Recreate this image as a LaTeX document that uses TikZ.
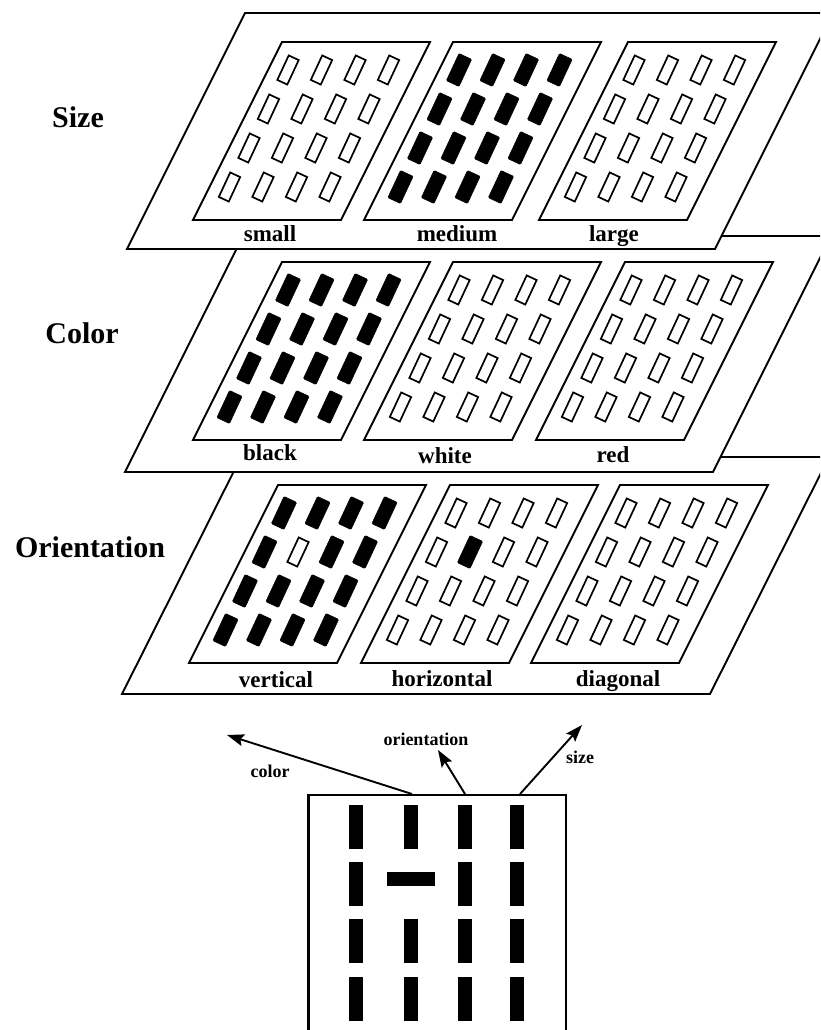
\documentclass[tikz,border=0pt]{standalone}
\usepackage{fontspec}
\setmainfont{Liberation Serif}
\usetikzlibrary{arrows.meta}
\tikzset{
  layer/.style={draw, fill=white, line width=1.9pt, line join=miter},
  panelbox/.style={draw, fill=white, line width=1.9pt, line join=miter},
  hollowbar/.style={draw, line width=1.7pt, fill=white},
  filledbar/.style={fill=black, draw=black, line width=0.5pt, rounded corners=1pt},
  laylabel/.style={font=\bfseries\fontsize{30}{30}\selectfont, anchor=base, inner sep=0pt},
  panlabel/.style={font=\bfseries\fontsize{23}{23}\selectfont, anchor=base, inner sep=0pt},
  dirlabel/.style={font=\bfseries\fontsize{18}{18}\selectfont, anchor=base, inner sep=0pt},
  arr/.style={line width=1.9pt, -{Stealth[length=17pt,width=12pt,inset=3pt]}},
  boxline/.style={line width=2.2pt, line join=miter},
  vbar/.style={fill=black},
}
\newcommand\hcell[2]{\path[hollowbar, shift={(#1,#2)}, rotate=-25] (-5.5,-13.5) rectangle (5.5,13.5);}
\newcommand\fcell[2]{\path[filledbar, shift={(#1,#2)}, rotate=-25] (-7,-15) rectangle (7,15);}
% #1 TLx, #2 top y, #3 kind (0 hollow, 1 filled, 2 filled+hollow odd, 3 hollow+filled odd)
\newcommand\panelgrid[3]{%
  \draw[panelbox] (#1,#2) -- ++(148,0) -- ++(-89,178) -- ++(-148,0) -- cycle;
  \foreach \i in {0,...,3}{%
    \foreach \j in {0,...,3}{%
      \pgfmathsetmacro\cx{#1+20+33.5*\j-0.5*(28+39*\i)}%
      \pgfmathsetmacro\cy{#2+28+39*\i}%
      \pgfmathtruncatemacro\odd{(\i==1)*(\j==1)}%
      \pgfmathtruncatemacro\fillit{(#3==1)+(#3==2)*(1-\odd)+(#3==3)*\odd}%
      \ifnum\fillit=1 \fcell{\cx}{\cy}\else\hcell{\cx}{\cy}\fi
    }%
  }%
}
\begin{document}
\begin{tikzpicture}[x=1pt, y=-1pt]
\useasboundingbox (0,0) rectangle (820,1030);
\clip (0,0) rectangle (820,1030);
\fill[white] (0,0) rectangle (820,1030);

% ---------- layer 3: orientation ----------
\draw[layer] (122,694) -- (710,694) -- (829,457) -- (241,457) -- cycle;
\panelgrid{278}{485}{2}
\panelgrid{450}{485}{3}
\panelgrid{620}{485}{0}
\node[panlabel] (lvert) at (276,687) {vertical};
\node[panlabel] (lhor) at (442,686) {horizontal};
\node[panlabel] (ldiag) at (618,686) {diagonal};

% ---------- layer 2: color ----------
\draw[layer] (125,472) -- (713,472) -- (831,236) -- (243,236) -- cycle;
\panelgrid{282}{262}{1}
\panelgrid{453}{262}{0}
\panelgrid{625}{262}{0}
\node[panlabel] (lblack) at (270,460) {black};
\node[panlabel] (lwhite) at (445,463) {white};
\node[panlabel] (lred) at (613,462) {red};

% ---------- layer 1: size ----------
\draw[layer] (127,249) -- (715,249) -- (833,13) -- (245,13) -- cycle;
\panelgrid{282}{42}{0}
\panelgrid{453}{42}{1}
\panelgrid{628}{42}{0}
\node[panlabel] (lsmall) at (270,241) {small};
\node[panlabel] (lmed) at (457,241) {medium};
\node[panlabel] (llarge) at (614,241) {large};

% ---------- layer names ----------
\node[laylabel] (nsize) at (78,128) {Size};
\node[laylabel] (ncolor) at (82,343) {Color};
\node[laylabel] (norient) at (90,557) {Orientation};

% ---------- bottom display ----------
\draw[boxline] (308.5,1035) -- (308.5,795) -- (566,795) -- (566,1035);
\foreach \r/\y in {0/805,1/862,2/919,3/977}{
  \foreach \c/\x in {0/356,1/411,2/465,3/517}{
    \pgfmathtruncatemacro\skip{(\r==1)*(\c==1)}
    \ifnum\skip=0 \fill[vbar] (\x-7,\y) rectangle (\x+7,\y+44);\fi
  }
}
\fill[vbar] (387,872) rectangle (435,886);

\coordinate (sColor) at (412,794);
\coordinate (sOrient) at (465,794);
\coordinate (sSize) at (520,794);
\coordinate (tColor) at (227,735);
\coordinate (tOrient) at (438,750);
\coordinate (tSize) at (582,725);
\draw[arr] (sColor) -- (tColor);
\draw[arr] (sOrient) -- (tOrient);
\draw[arr] (sSize) -- (tSize);
\node[dirlabel] (dcolor) at (270,777) {color};
\node[dirlabel] (dorient) at (426,745) {orientation};
\node[dirlabel] (dsize) at (580,763) {size};
\end{tikzpicture}
\end{document}
